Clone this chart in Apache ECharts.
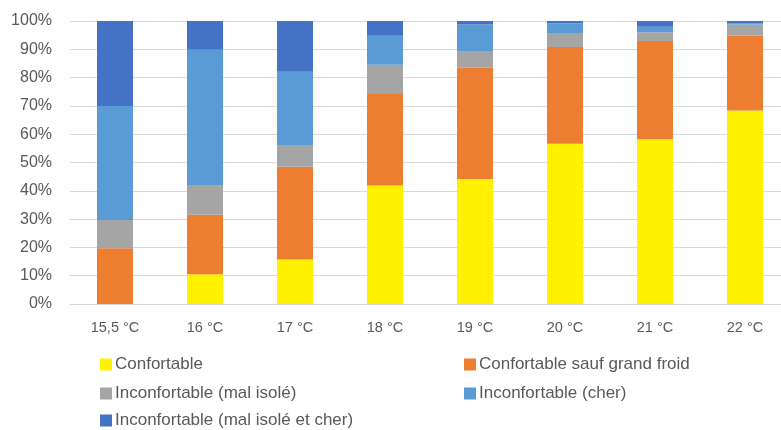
<!DOCTYPE html>
<html><head><meta charset="utf-8">
<script src="https://cdn.jsdelivr.net/npm/echarts@6/dist/echarts.min.js"></script>
<style>html,body{margin:0;padding:0;background:#fff}#c{width:781px;height:430px}</style>
</head><body><div id="c"></div>
<script>
var categories = ['15,5 °C','16 °C','17 °C','18 °C','19 °C','20 °C','21 °C','22 °C'];
var seriesNames = ['Confortable','Confortable sauf grand froid','Inconfortable (mal isolé)','Inconfortable (cher)','Inconfortable (mal isolé et cher)'];
var confortable = [0, 10.5, 15.7, 41.9, 44.2, 56.6, 58.2, 68.4];
var saufGrandFroid = [19.7, 21.0, 32.8, 32.3, 39.3, 34.2, 34.7, 26.5];
var malIsole = [10.0, 10.3, 7.7, 10.3, 5.9, 4.7, 3.1, 3.9];
var cher = [40.3, 48.0, 25.9, 10.3, 9.4, 3.7, 2.0, 0.3];
var malIsoleEtCher = [30.0, 10.2, 17.9, 5.2, 1.2, 0.8, 2.0, 0.9];
var yTicks = [0,10,20,30,40,50,60,70,80,90,100];

var colors = ['#FFF100','#ED7D31','#A5A5A5','#5B9BD5','#4472C4'];
var values = [confortable, saufGrandFroid, malIsole, cher, malIsoleEtCher];
var font = '"Liberation Sans", Arial, sans-serif';

var legendPos = [[95,351],[459,351],[95,380],[459,380],[95,407]];
var legends = seriesNames.map(function(n,i){
  return {data:[n], left:legendPos[i][0], top:legendPos[i][1], itemWidth:12, itemHeight:12, itemGap:0,
    icon:'rect', textStyle:{fontFamily:font, fontSize:17, color:'#595959', padding:[0,0,0,-2]}, selectedMode:false};
});

var chart = echarts.init(document.getElementById('c'), null, {renderer:'canvas'});
chart.setOption({
  animation:false,
  color: colors,
  grid:{left:70, top:21, width:720, height:283, containLabel:false, outerBoundsMode:'none'},
  legend: legends,
  xAxis:{type:'category', data:categories,
    axisLine:{lineStyle:{color:'#D9D9D9', width:1}}, axisTick:{show:false},
    axisLabel:{fontFamily:font, fontSize:14.5, color:'#595959', margin:16}},
  yAxis:{type:'value', min:0, max:100, interval:10,
    axisLine:{show:false}, axisTick:{show:false},
    splitLine:{lineStyle:{color:'#D9D9D9', width:1}},
    axisLabel:{fontFamily:font, fontSize:16, color:'#595959', margin:18,
      formatter:function(v){ return yTicks.indexOf(v)>=0 ? v+'%' : ''; }}},
  series: seriesNames.map(function(n,i){
    return {name:n, type:'bar', stack:'total', data:values[i], barWidth:36,
      itemStyle:{color:colors[i]}};
  })
});
</script></body></html>
